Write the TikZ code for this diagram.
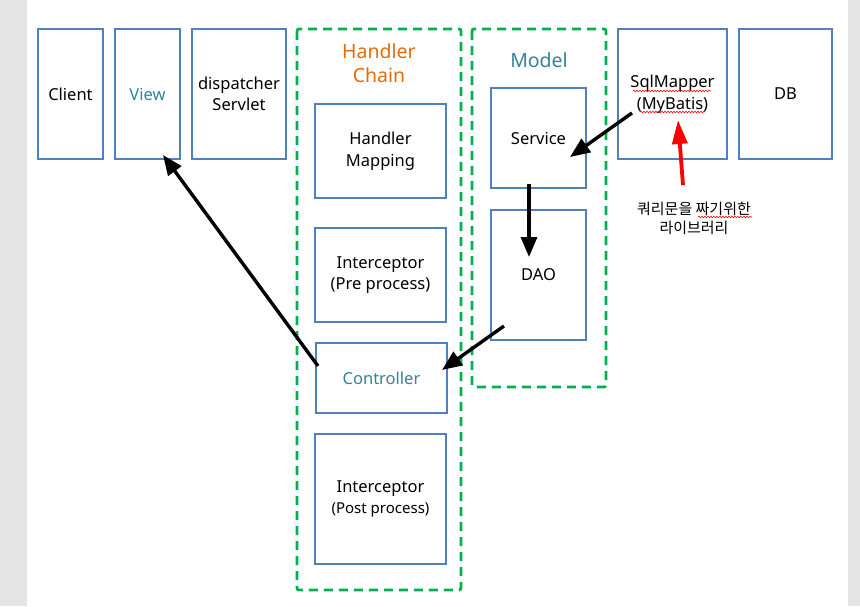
\documentclass[tikz,border=0pt]{standalone}
\usepackage{fontspec}
\setmainfont{Noto Sans}
\newfontfamily\krfont{Noto Sans CJK KR}
\usetikzlibrary{arrows.meta,calc,decorations.pathmorphing}
\definecolor{boxblue}{HTML}{4F81BD}
\definecolor{chaingreen}{HTML}{00B050}
\definecolor{tealtext}{HTML}{31849B}
\definecolor{orangetext}{HTML}{E36C09}
\tikzset{
  layer/.style={draw=boxblue,line width=1.6pt,fill=white,inner sep=0pt,align=center,font=\fontsize{16.5}{21.5}\selectfont},
  group/.style={draw=chaingreen,line width=2.8pt,dash pattern=on 9pt off 6pt,rounded corners=2pt},
  flow/.style={line width=3.4pt,-{Triangle[length=20pt,width=16pt]}},
  squiggle/.style={draw=red,line width=0.6pt,decorate,decoration={snake,amplitude=0.8pt,segment length=3pt}}
}
\begin{document}
\begin{tikzpicture}[x=1pt,y=-1pt]
	\useasboundingbox (0,0) rectangle (860,606);
	% page edges
	\fill[black!10] (0,0) rectangle (27,606);
	\fill[black!10] (848,0) rectangle (860,606);

	% dashed groups
	\draw[group] (297,29) rectangle (461,590);
	\draw[group] (472,29) rectangle (606,387);
	\node[text=orangetext,align=center,font=\fontsize{19.5}{24.5}\selectfont] (chainlabel) at (379,63) {Handler\\Chain};
	\node[text=tealtext,font=\fontsize{19.5}{24}\selectfont] (modellabel) at (539,60) {Model};

	% top row
	\node[layer,minimum width=65pt,minimum height=130pt] (client) at (70.5,94) {Client};
	\node[layer,minimum width=65pt,minimum height=130pt,text=tealtext] (view) at (147.5,94) {View};
	\node[layer,minimum width=94pt,minimum height=130pt] (dispatcher) at (239,94) {dispatcher\\Servlet};
	\node[layer,minimum width=109pt,minimum height=130pt] (sql) at (672.5,94) {SqlMapper\\(MyBatis)};
	\node[layer,minimum width=93pt,minimum height=130pt] (db) at (785.5,94) {DB};

	% handler chain
	\node[layer,minimum width=131pt,minimum height=94pt] (mapping) at (380.5,151) {Handler\\Mapping};
	\node[layer,minimum width=131pt,minimum height=94pt] (prehandle) at (380.5,275) {Interceptor\\(Pre process)};
	\node[layer,minimum width=131pt,minimum height=70pt,text=tealtext] (ctrl) at (381.5,378) {Controller};
	\node[layer,minimum width=131pt,minimum height=130pt] (posthandle) at (380.5,499) {Interceptor\\{\fontsize{15}{20}\selectfont(Post process)}};

	% model
	\node[layer,minimum width=95pt,minimum height=100pt] (svc) at (538.5,138) {Service};
	\node[layer,minimum width=95pt,minimum height=130pt] (dao) at (538.5,275) {DAO};

	% note
	\node[align=center,font=\krfont\fontsize{15}{19}\selectfont] (note) at (694,218) {쿼리문을 짜기위한\\라이브러리};

	% spell check marks
	\draw[squiggle] (633,91) -- (711,91);
	\draw[squiggle] (640,112) -- (705,112);
	\draw[squiggle] (698,217) -- (752,217);

	% arrows
	\draw[flow] ($(ctrl.center)+(-63.5,-12)$) -- ($(view.center)+(15.5,61)$);
	\draw[flow] ($(sql.center)+(-40.5,19)$) -- ($(svc.center)+(31.5,19)$);
	\draw[flow] ($(svc.center)+(-9.5,46)$) -- ($(dao.center)+(-9.5,-18)$);
	\draw[flow] ($(dao.center)+(-34.5,51)$) -- ($(ctrl.center)+(60.5,-8)$);
	\draw[flow,red,line width=3.8pt,-{Triangle[length=24pt,width=15pt]}] ($(note.north)+(-11,-13)$) -- ($(sql.center)+(5.5,26)$);
\end{tikzpicture}
\end{document}
